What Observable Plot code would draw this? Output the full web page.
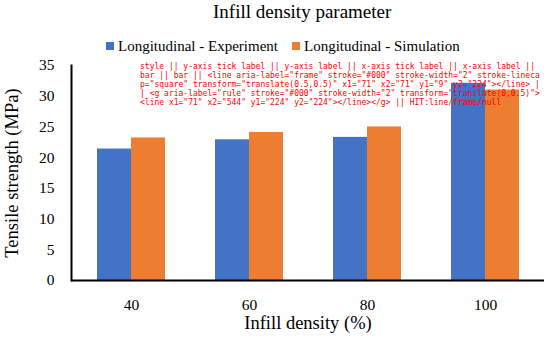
<!DOCTYPE html>
<html>
<head>
<meta charset="utf-8">
<script src="https://cdn.jsdelivr.net/npm/d3@7"></script>
<script src="https://cdn.jsdelivr.net/npm/@observablehq/plot@0.6"></script>
<style>
  html, body { margin: 0; padding: 0; background: #fff; }
  #wrap { width: 550px; height: 338px; font-family: "Liberation Serif", serif; color: #000; overflow: hidden; position: relative; }
  #title { height: 24px; line-height: 24px; font-size: 19px; font-family: "Liberation Serif", serif; text-align: left; padding-left: 213px; white-space: nowrap; }
  #legend { height: 32px; position: relative; top: 6px; display: flex; align-items: center; font-size: 15px; font-family: "Liberation Serif", serif; padding-left: 106px; white-space: nowrap; }
  .item { display: flex; align-items: center; margin-right: 14px; }
  .item span { font-family: "Liberation Serif", serif; }
  .sw { width: 8px; height: 8px; margin-right: 4px; }
  #chart svg { display: block; }
  #chart svg text { font-family: "Liberation Serif", serif !important; }
  #chart g[aria-label="x-axis label"] text { font-size: 18.5px; }
  #chart g[aria-label="y-axis label"] text { font-size: 18.5px; }
  #dbg { position: absolute; left: 140px; top: 62px; width: 400px; font: 8px monospace; color: red; word-break: break-all; line-height: 9px; }
</style>
</head>
<body>
<div id="wrap">
  <div id="title">Infill density parameter</div>
  <div id="legend"></div>
  <div id="chart"></div>
  <div id="dbg"></div>
</div>
<script>
const densities = ["40", "60", "80", "100"];
const seriesNames = ["Longitudinal - Experiment", "Longitudinal - Simulation"];
const experiment = [21.4, 22.9, 23.3, 32.1];
const simulation = [23.2, 24.1, 25.0, 31.0];
const yTicks = [0, 5, 10, 15, 20, 25, 30, 35];
const colors = ["#4472C4", "#ED7D31"];

const expData = densities.map((d, i) => ({density: d, series: seriesNames[0], value: experiment[i]}));
const simData = densities.map((d, i) => ({density: d, series: seriesNames[1], value: simulation[i]}));

const legend = document.getElementById("legend");
seriesNames.forEach((s, i) => {
  const it = document.createElement("div");
  it.className = "item";
  it.innerHTML = `<span class="sw" style="background:${colors[i]}"></span><span>${s}</span>`;
  legend.appendChild(it);
});

const chart = Plot.plot({
  width: 550,
  height: 282,
  marginTop: 9,
  marginBottom: 58,
  marginLeft: 71,
  marginRight: 6,
  style: {fontFamily: "'Liberation Serif', serif", fontSize: "15.5px", color: "#000", background: "#fff", overflow: "visible"},
  x: {domain: densities, paddingInner: 0.425, paddingOuter: 0.2125, tickSize: 0, tickPadding: 18, label: "Infill density (%)", labelAnchor: "center", labelOffset: 48, labelArrow: "none"},
  y: {domain: [0, 35], ticks: yTicks, tickSize: 0, tickPadding: 17, label: "Tensile strength (MPa)", labelAnchor: "center", labelOffset: 67, labelArrow: "none"},
  color: {domain: seriesNames, range: colors},
  marks: [
    Plot.barY(expData, {x: "density", y: "value", fill: "series", insetRight: 34}),
    Plot.barY(simData, {x: "density", y: "value", fill: "series", insetLeft: 34}),
    Plot.frame({anchor: "left", stroke: "#000", strokeWidth: 2}),
    Plot.ruleY([0], {stroke: "#000", strokeWidth: 2})
  ]
});
document.getElementById("chart").appendChild(chart);
const out = [];
for (const el of chart.children) {
  const lab = el.getAttribute("aria-label") || el.tagName;
  if (lab === "frame" || lab === "rule" || el.tagName === "line") out.push(el.outerHTML.slice(0, 260));
  else out.push(lab);
}
const hit = document.elementFromPoint(72, 190);
out.push("HIT:" + (hit ? hit.tagName + "/" + (hit.getAttribute("aria-label") || "") + "/" + (hit.parentNode && hit.parentNode.getAttribute ? hit.parentNode.getAttribute("aria-label") : "") : "none"));
document.getElementById("dbg").textContent = out.join(" || ");
</script>
</body>
</html>
